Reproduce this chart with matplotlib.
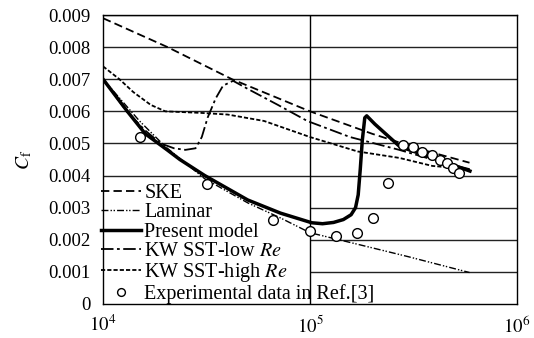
import matplotlib
matplotlib.use("Agg")
import matplotlib.pyplot as plt
import numpy as np

plt.rcParams['font.family'] = ['Liberation Serif', 'DejaVu Serif']
plt.rcParams['mathtext.fontset'] = 'stix'
plt.rcParams['lines.scale_dashes'] = False

# SKE
ske_re = [1e4, 2.05e4, 4.2e4, 1e5, 2e5, 3.5e5, 5.9e5]
ske_cf = [0.0089, 0.0080, 0.0070, 0.0060, 0.0053, 0.0048, 0.0044]

# Laminar
lam_re = [1e4, 1.5e4, 2e4, 3.1e4, 5e4, 7.2e4, 1e5, 1.75e5, 3e5, 5.9e5]
lam_cf = [0.0070, 0.0057, 0.0049, 0.0039, 0.00315, 0.00268, 0.00222, 0.00184, 0.00147, 0.00098]

# Present model
pm_re = [1e4, 1.31e4, 1.6e4, 2.04e4, 2.35e4, 3.1e4, 5e4, 7.2e4, 1.02e5, 1.15e5, 1.3e5,
         1.45e5, 1.58e5, 1.66e5, 1.71e5, 1.75e5, 1.79e5, 1.84e5, 1.88e5, 2.06e5, 2.72e5, 3.93e5, 5.93e5]
pm_cf = [0.0070, 0.0060, 0.0053, 0.0048, 0.0045, 0.0040, 0.00324, 0.00283, 0.00253, 0.00250, 0.00254,
         0.00263, 0.00278, 0.0030, 0.0034, 0.0042, 0.0051, 0.0058, 0.00586, 0.0056, 0.0049, 0.00455, 0.00414]

# KW SST-low Re
low_re = [1e4, 1.3e4, 1.6e4, 1.9e4, 2.2e4, 2.5e4, 2.8e4, 3.0e4, 3.2e4, 3.5e4, 3.8e4, 4.25e4,
          5e4, 7e4, 9.7e4, 1.56e5, 2.7e5, 3.9e5, 5.9e5]
low_cf = [0.0070, 0.0060, 0.0054, 0.0050, 0.00485, 0.0048, 0.00485, 0.0052, 0.0058, 0.0064, 0.0068, 0.00695,
          0.0067, 0.0062, 0.0057, 0.0052, 0.0048, 0.0045, 0.0042]

# KW SST-high Re
high_re = [1e4, 1.2e4, 1.4e4, 1.7e4, 2e4, 3e4, 4e4, 6e4, 1e5, 1.7e5, 2.7e5, 3.9e5, 5.9e5]
high_cf = [0.0074, 0.0070, 0.0066, 0.0062, 0.0060, 0.00595, 0.0059, 0.0057, 0.0052, 0.00475, 0.00455, 0.0043, 0.0042]

# Experimental data in Ref.[3]
exp_re = [1.51e4, 3.17e4, 6.6e4, 1e5, 1.34e5, 1.69e5, 2.02e5, 2.38e5,
          2.81e5, 3.15e5, 3.48e5, 3.88e5, 4.25e5, 4.59e5, 4.91e5, 5.25e5]
exp_cf = [0.0052, 0.00374, 0.00263, 0.00226, 0.00212, 0.00221, 0.00268, 0.00377,
          0.00495, 0.00489, 0.00474, 0.00464, 0.00449, 0.0044, 0.00424, 0.00408]

fig = plt.figure(figsize=(5.34, 3.38), dpi=100)
ax = fig.add_axes([0.193, 0.1006, 0.775, 0.855])

# grid (lower lines only right of 1e5)
for yv in np.arange(0.004, 0.0091, 0.001):
    ax.axhline(yv, color='#222222', lw=1.0, zorder=1)
for yv in [0.001, 0.002, 0.003]:
    ax.hlines(yv, 1e5, 1e6, color='#222222', lw=1.0, zorder=1)
ax.axvline(1e5, color='black', lw=1.0, zorder=1)

ax.plot(ske_re, ske_cf, color='black', lw=1.3, ls=(0, (6, 3)), label='SKE', zorder=3)
ax.plot(lam_re, lam_cf, color='black', lw=1.0, ls=(0, (5, 1.5, 1, 1.2, 1, 1.5)), label='Laminar', zorder=3)
ax.plot(pm_re, pm_cf, color='black', lw=2.5, label='Present model', zorder=4)
ax.plot(low_re, low_cf, color='black', lw=1.3, ls=(0, (9, 2.5, 2, 2.5)), label='KW SST-low $Re$', zorder=3)
ax.plot(high_re, high_cf, color='black', lw=1.3, ls=(0, (3, 1.5)), label='KW SST-high $Re$', zorder=3)
ax.plot(exp_re, exp_cf, ls='none', marker='o', ms=7, mfc='white', mec='black', mew=1.0,
        label='Experimental data in Ref.[3]', zorder=5)

ax.set_xscale('log')
ax.set_xlim(1e4, 1e6)
ax.set_ylim(0, 0.009)
ax.set_yticks(np.arange(0, 0.0091, 0.001))
ax.set_yticklabels(['0', '0.001', '0.002', '0.003', '0.004', '0.005', '0.006', '0.007', '0.008', '0.009'])
ax.set_xticks([1e4, 1e5, 1e6])
ax.set_xticklabels(['$10^4$', '$10^5$', '$10^6$'])
ax.minorticks_off()
ax.tick_params(axis='y', length=0, labelsize=13.5, pad=9)
ax.tick_params(axis='x', length=0, labelsize=13.5, pad=8)
ax.set_ylabel('$C_\\mathrm{f}$', fontsize=14, labelpad=10)
for s in ax.spines.values():
    s.set_linewidth(1.0)

ax.legend(loc='lower left', bbox_to_anchor=(-0.01, -0.008), borderaxespad=0, borderpad=0.1,
          frameon=False, fontsize=14.5, handlelength=2.0, handletextpad=0.15, labelspacing=0.01,
          markerscale=0.8)

fig.savefig('out.png', dpi=100)
